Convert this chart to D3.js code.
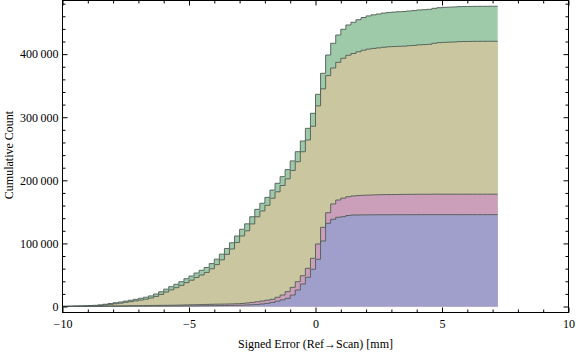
<!DOCTYPE html>
<html>
<head>
<meta charset="utf-8">
<script src="https://cdn.jsdelivr.net/npm/d3@7"></script>
<style>
  body { margin: 0; background: #fff; }
  svg { display: block; }
</style>
</head>
<body>
<div id="chart"></div>
<script>
// histogram bins: 0.2 wide, starting at -10
const binStart = -10
const binWidth = 0.2

// cumulative count per bin for each dataset
const blueCounts = [
  0, 0, 100, 100, 100, 200, 200, 200, 300, 300,
  300, 400, 400, 400, 500, 500, 500, 600, 600, 700,
  700, 800, 800, 900, 900, 1000, 1000, 1100, 1200, 1300,
  1400, 1500, 1600, 1700, 1900, 2100, 2400, 2800, 3300, 4000,
  5000, 6500, 8500, 10500, 13000, 18200, 26200, 35700, 46300, 59000,
  74800, 103800, 131900, 138200, 141400, 142300, 144200, 145000, 145100, 145200,
  145300, 145300, 145400, 145400, 145400, 145500, 145500, 145500, 145500, 145600,
  145600, 145600, 145600, 145600, 145600, 145600, 145600, 145600, 145600, 145600,
  145600, 145600, 145600, 145600, 145600, 145600
]
const pinkCounts = [
  100, 200, 300, 300, 400, 500, 500, 600, 700, 800,
  900, 1000, 1100, 1200, 1300, 1400, 1500, 1600, 1700, 1800,
  1900, 2000, 2100, 2300, 2500, 2700, 2900, 3100, 3300, 3500,
  3700, 3800, 3900, 4100, 4400, 4800, 5600, 6400, 7500, 8700,
  10000, 11400, 14600, 18200, 23500, 30400, 39300, 48800, 60500, 76400,
  99100, 125500, 148700, 162500, 168800, 171800, 174000, 175200, 175800, 176300,
  176600, 176900, 177100, 177300, 177400, 177500, 177600, 177700, 177800, 177800,
  177900, 177900, 177900, 178000, 178000, 178000, 178000, 178000, 178000, 178000,
  178000, 178000, 178000, 178000, 178000, 178000
]
const tanCounts = [
  200, 300, 400, 500, 600, 800, 1100, 1600, 2400, 3400,
  4400, 5300, 6600, 7700, 8900, 10200, 11600, 13400, 16000, 19100,
  22900, 26400, 29800, 33500, 37800, 41700, 46100, 50000, 54000, 59800,
  66400, 74000, 82600, 91200, 101500, 111800, 120000, 130900, 142200, 151400,
  160400, 171600, 181800, 191800, 202400, 215600, 229400, 245300, 263900, 285700,
  318000, 345000, 366000, 378000, 387000, 393400, 398200, 401000, 403700, 406200,
  408000, 409100, 409900, 410900, 411600, 412000, 412400, 412600, 413300, 413800,
  414700, 415100, 415600, 417200, 418200, 418700, 419000, 419300, 419800, 420000,
  420100, 420200, 420300, 420300, 420400, 420400
]
const greenCounts = [
  400, 600, 800, 1000, 1200, 1500, 1900, 2600, 3600, 4800,
  6000, 7100, 8600, 9900, 11400, 13000, 14700, 16800, 19800, 23300,
  27500, 31400, 35200, 39300, 44000, 48300, 53100, 57400, 61800, 68000,
  75000, 83000, 92000, 101000, 111700, 122400, 131000, 142300, 154000, 163600,
  173000, 184600, 195300, 205800, 217000, 230800, 245400, 262300, 282400, 306200,
  336300, 369600, 398600, 417200, 430300, 439400, 446200, 450500, 454500, 458000,
  460600, 462300, 463600, 465000, 466000, 466600, 467200, 467600, 468400, 469000,
  470000, 470400, 471000, 472600, 473600, 474200, 474500, 474800, 475300, 475500,
  475600, 475700, 475800, 475800, 475900, 475900
]

const xTicks = [-10, -5, 0, 5, 10]
const xMinorTicks = [-9, -8, -7, -6, -4, -3, -2, -1, 1, 2, 3, 4, 6, 7, 8, 9]
const yTicks = [0, 100000, 200000, 300000, 400000]
const yMinorTicks = [20000, 40000, 60000, 80000, 120000, 140000, 160000, 180000,
  220000, 240000, 260000, 280000, 320000, 340000, 360000, 380000, 420000, 440000, 460000, 480000]
const xTitle = 'Signed Error (Ref\u2192Scan) [mm]'
const yTitle = 'Cumulative Count'

// drawn back to front
const series = [
  { name: 'green', counts: greenCounts, color: '#9ecaaa' },
  { name: 'tan', counts: tanCounts, color: '#cac6a0' },
  { name: 'pink', counts: pinkCounts, color: '#cb9fb9' },
  { name: 'blue', counts: blueCounts, color: '#a09fcc' },
]

const width = 576
const height = 353
const font = "'Liberation Serif', 'Times New Roman', serif"

const svg = d3.select('#chart')
  .append('svg')
  .attr('width', width)
  .attr('height', height)

const xScale = d3.scaleLinear().domain([-10, 10]).range([62.5, 568.5])
const yScale = d3.scaleLinear().domain([-9500, 485000]).range([312.5, 0.5])

const toPoints = counts => {
  const pts = counts.map((c, i) => ({ x: binStart + i * binWidth, y: c }))
  pts.push({ x: binStart + counts.length * binWidth, y: counts[counts.length - 1] })
  return pts
}

const area = d3.area()
  .x(d => xScale(d.x))
  .y0(yScale(0))
  .y1(d => yScale(d.y))
  .curve(d3.curveStepAfter)

const line = d3.line()
  .x(d => xScale(d.x))
  .y(d => yScale(d.y))
  .curve(d3.curveStepAfter)

const plot = svg.append('g').attr('class', 'plot')

series.forEach(s => {
  const pts = toPoints(s.counts)
  plot.append('path')
    .attr('d', area(pts))
    .attr('fill', s.color)
  plot.append('path')
    .attr('d', line(pts))
    .attr('fill', 'none')
    .attr('stroke', '#4f5c55')
    .attr('stroke-opacity', 0.9)
    .attr('stroke-width', 1)
})

// frame ticks (inward, Mathematica style)
function drawAxis(axis, tx, ty, labels) {
  const g = svg.append('g')
    .attr('transform', `translate(${tx}, ${ty})`)
    .call(axis)
  g.attr('font-family', font).attr('font-size', 12)
  g.select('.domain').remove()
  g.selectAll('.tick line').attr('stroke', '#000')
  if (!labels) g.selectAll('.tick text').remove()
  return g
}

const fmtX = d => (d < 0 ? '\u2212' + Math.abs(d) : String(d))
const fmtY = d => d3.format(',')(d).replace(/,/g, '\u2009')

drawAxis(d3.axisBottom(xScale).tickValues(xTicks).tickSize(-5).tickPadding(7).tickFormat(fmtX), 0, 312.5, true)
drawAxis(d3.axisBottom(xScale).tickValues(xMinorTicks).tickSize(-3).tickFormat(''), 0, 312.5, false)
drawAxis(d3.axisTop(xScale).tickValues(xTicks).tickSize(-5), 0, 0.5, false)
drawAxis(d3.axisTop(xScale).tickValues(xMinorTicks).tickSize(-3), 0, 0.5, false)

drawAxis(d3.axisLeft(yScale).tickValues(yTicks).tickSize(-5).tickPadding(4).tickFormat(fmtY), 62.5, 0, true)
drawAxis(d3.axisLeft(yScale).tickValues(yMinorTicks).tickSize(-3).tickFormat(''), 62.5, 0, false)
drawAxis(d3.axisRight(yScale).tickValues(yTicks).tickSize(-5), 568.5, 0, false)
drawAxis(d3.axisRight(yScale).tickValues(yMinorTicks).tickSize(-3), 568.5, 0, false)

svg.append('rect')
  .attr('x', 62.5)
  .attr('y', 0.5)
  .attr('width', 506)
  .attr('height', 312)
  .attr('fill', 'none')
  .attr('stroke', '#000')
  .attr('stroke-width', 1)

svg.append('text')
  .attr('x', 315.5)
  .attr('y', 348)
  .attr('text-anchor', 'middle')
  .attr('font-family', font)
  .attr('font-size', 12)
  .text(xTitle)

svg.append('text')
  .attr('transform', 'translate(13, 155) rotate(-90)')
  .attr('text-anchor', 'middle')
  .attr('font-family', font)
  .attr('font-size', 12)
  .text(yTitle)
</script>
</body>
</html>
